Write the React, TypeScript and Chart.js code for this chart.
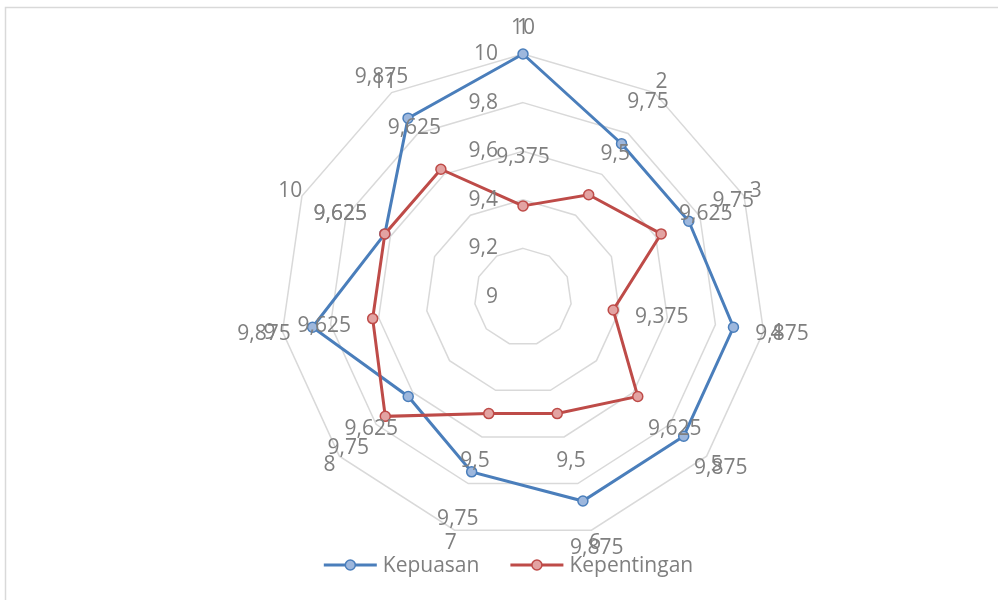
import React, { useEffect, useRef } from 'react';
import { Chart, registerables } from 'chart.js';

Chart.register(...registerables);

const categories = ['1', '2', '3', '4', '5', '6', '7', '8', '9', '10', '11'];
const kepuasan = [10, 9.75, 9.75, 9.875, 9.875, 9.875, 9.75, 9.625, 9.875, 9.625, 9.875];
const kepentingan = [9.375, 9.5, 9.625, 9.375, 9.625, 9.5, 9.5, 9.75, 9.625, 9.625, 9.625];
const seriesNames = ['Kepuasan', 'Kepentingan'];
const scaleMin = 9;
const scaleMax = 10;
const scaleStep = 0.2;

const FONT_FAMILY = '"Open Sans", "Liberation Sans", sans-serif';
const FONT = `21px ${FONT_FAMILY}`;
const TEXT_COLOR = '#7f7f7f';
const GRID_COLOR = '#d9d9d9';
const BLUE_LINE = '#4a7ebb';
const BLUE_FILL = '#9db7dd';
const RED_LINE = '#be4b48';
const RED_FILL = '#e3a3a2';

const fmt = (v: number) => String(Number(v.toFixed(4))).replace('.', ',');

const excelPlugin = {
  id: 'excelLook',
  beforeDraw(chart: any) {
    const ctx = chart.ctx;
    ctx.save();
    ctx.fillStyle = '#ffffff';
    ctx.fillRect(0, 0, chart.width, chart.height);
    ctx.strokeStyle = GRID_COLOR;
    ctx.lineWidth = 1.5;
    ctx.strokeRect(5.5, 7.5, 1200, 1200);
    ctx.restore();
  },
  afterDraw(chart: any) {
    const scale = chart.scales.r;
    const ctx = chart.ctx;
    ctx.save();
    ctx.font = FONT;
    ctx.fillStyle = TEXT_COLOR;
    ctx.textBaseline = 'middle';

    // radial tick labels, left of the vertical axis
    ctx.textAlign = 'right';
    scale.ticks.forEach((t: any) => {
      const d = scale.getDistanceFromCenterForValue(t.value);
      ctx.fillText(fmt(t.value), scale.xCenter - 25, scale.yCenter - d);
    });

    // category labels
    ctx.textAlign = 'center';
    categories.forEach((c, i) => {
      const extra = i === 0 ? 13 : 0;
      const p = scale.getPointPosition(i, scale.drawingArea + 13 + extra);
      ctx.fillText(c, p.x, p.y);
    });

    // data labels
    chart.data.datasets.forEach((ds: any) => {
      ds.data.forEach((v: number, i: number) => {
        const d = scale.getDistanceFromCenterForValue(v) + 49;
        const p = scale.getPointPosition(i, d);
        ctx.fillText(fmt(v), p.x, Math.max(p.y, 28));
      });
    });

    // legend (line + marker + text)
    const lineLen = 53;
    const gapText = 6;
    const gapItems = 31;
    const items = chart.data.datasets.map((ds: any) => ({
      label: ds.label,
      line: ds.borderColor,
      fill: ds.pointBackgroundColor,
      w: lineLen + gapText + ctx.measureText(ds.label).width,
    }));
    const total = items.reduce((s: number, it: any) => s + it.w, 0) + gapItems * (items.length - 1);
    let x = 508.5 - total / 2;
    const y = 565;
    ctx.textAlign = 'left';
    items.forEach((it: any) => {
      ctx.strokeStyle = it.line;
      ctx.lineWidth = 3;
      ctx.beginPath();
      ctx.moveTo(x, y);
      ctx.lineTo(x + lineLen, y);
      ctx.stroke();
      ctx.beginPath();
      ctx.arc(x + lineLen / 2, y, 5, 0, Math.PI * 2);
      ctx.fillStyle = it.fill;
      ctx.fill();
      ctx.lineWidth = 1.5;
      ctx.stroke();
      ctx.fillStyle = TEXT_COLOR;
      ctx.fillText(it.label, x + lineLen + gapText, y + 1);
      x += it.w + gapItems;
    });
    ctx.restore();
  },
};

export default function App() {
  const canvasRef = useRef<HTMLCanvasElement | null>(null);

  useEffect(() => {
    const canvas = canvasRef.current;
    if (!canvas) return;
    const chart = new Chart(canvas, {
      type: 'radar',
      data: {
        labels: categories,
        datasets: [
          {
            label: seriesNames[0],
            data: kepuasan,
            borderColor: BLUE_LINE,
            backgroundColor: BLUE_FILL,
            pointBackgroundColor: BLUE_FILL,
            pointBorderColor: BLUE_LINE,
            pointBorderWidth: 1.5,
            pointRadius: 5,
            borderWidth: 3,
            fill: false,
            order: 1,
          },
          {
            label: seriesNames[1],
            data: kepentingan,
            borderColor: RED_LINE,
            backgroundColor: RED_FILL,
            pointBackgroundColor: RED_FILL,
            pointBorderColor: RED_LINE,
            pointBorderWidth: 1.5,
            pointRadius: 5,
            borderWidth: 3,
            fill: false,
            order: 0,
          },
        ],
      },
      options: {
        animation: false,
        responsive: false,
        layout: { padding: { top: 54, bottom: 60, left: 280, right: 232 } },
        plugins: {
          legend: { display: false },
          tooltip: { enabled: false },
        },
        scales: {
          r: {
            min: scaleMin,
            max: scaleMax,
            beginAtZero: false,
            ticks: { display: false, stepSize: scaleStep },
            grid: { color: GRID_COLOR, lineWidth: 1.5 },
            angleLines: { display: false },
            pointLabels: { display: false },
          },
        },
      },
      plugins: [excelPlugin],
    } as any);
    return () => chart.destroy();
  }, []);

  return (
    <div style={{ position: 'absolute', left: 0, top: 0, width: 998, height: 600, background: '#fff' }}>
      <canvas ref={canvasRef} width={998} height={600} style={{ display: 'block' }} />
    </div>
  );
}
